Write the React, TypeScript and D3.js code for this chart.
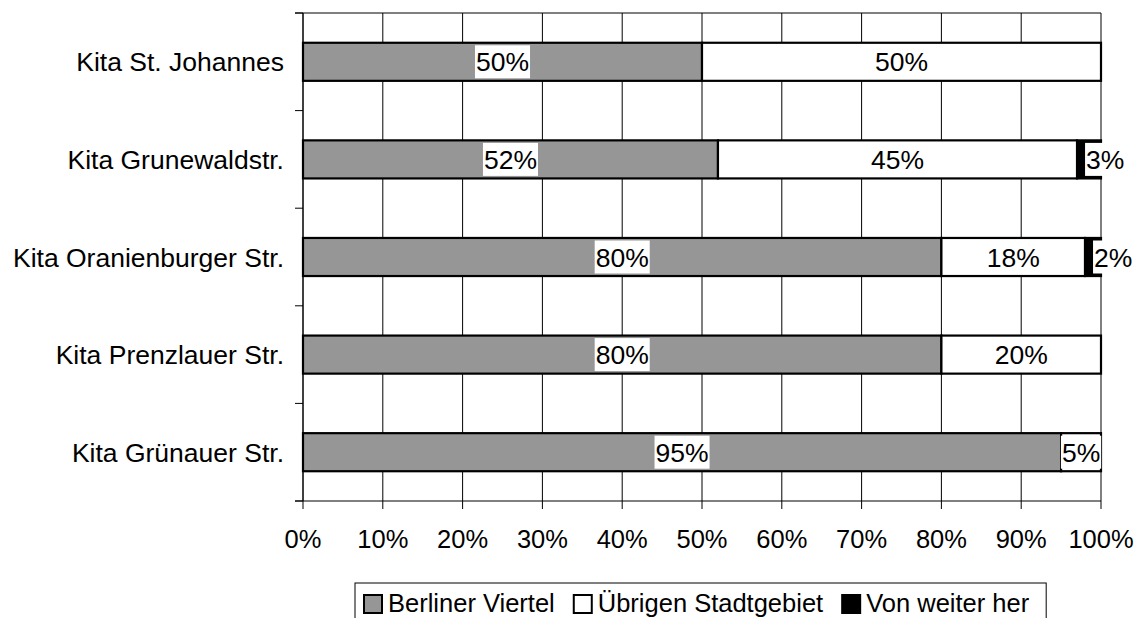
import React from "react";
import * as d3 from "d3";

const categories = [
  "Kita St. Johannes",
  "Kita Grunewaldstr.",
  "Kita Oranienburger Str.",
  "Kita Prenzlauer Str.",
  "Kita Grünauer Str.",
];
const seriesNames = ["Berliner Viertel", "Übrigen Stadtgebiet", "Von weiter her"];
const berlinerViertel = [50, 52, 80, 80, 95];
const uebrigenStadtgebiet = [50, 45, 18, 20, 5];
const vonWeiterHer = [0, 3, 2, 0, 0];
const xTicks = [0, 10, 20, 30, 40, 50, 60, 70, 80, 90, 100];
const seriesColors = ["#969696", "#ffffff", "#000000"];

const W = 1138;
const H = 618;
const FONT = "'Liberation Sans', Arial, sans-serif";
const FS_TICK = 25.5;
const FS_CAT = 26.5;
const FS_LAB = 26.5;
const FS_LEG = 25.5;

function textWidth(s: string, size: number) {
  if (typeof document === "undefined") return s.length * size * 0.55;
  const c = document.createElement("canvas").getContext("2d")!;
  c.font = `${size}px ${FONT}`;
  return c.measureText(s).width;
}

export default function App() {
  const left = 303;
  const right = 1101;
  const top = 13;
  const bottom = 501;
  const x = d3.scaleLinear().domain([0, 100]).range([left, right]);
  const y = d3.scaleBand<string>().domain(categories).range([top, bottom]).paddingInner(0).paddingOuter(0);
  const bw = y.bandwidth();
  const barH = bw * 0.39;

  const series = [berlinerViertel, uebrigenStadtgebiet, vonWeiterHer];
  const stackData = categories.map((c, i) => ({
    cat: c,
    s0: series[0][i],
    s1: series[1][i],
    s2: series[2][i],
  }));
  const stack = d3.stack<any>().keys(["s0", "s1", "s2"]);
  const stacked = stack(stackData);

  const boundaries = d3.range(categories.length + 1).map((i) => top + i * bw);

  const segs: any[] = [];
  const labels: any[] = [];
  stacked.forEach((layer, si) => {
    layer.forEach((d: any, ci) => {
      const v = d[1] - d[0];
      if (v <= 0) return;
      const cat = categories[ci];
      const x0 = x(d[0]);
      const x1 = x(d[1]);
      const yc = (y(cat) as number) + bw / 2;
      segs.push({ key: `${si}-${ci}`, x0, x1, y0: yc - barH / 2, fill: seriesColors[si] });
      const txt = `${v}%`;
      const tw = textWidth(txt, FS_LAB);
      let cx = (x0 + x1) / 2;
      if (tw > x1 - x0) cx = x0 + 9 + tw / 2;
      labels.push({ key: `l${si}-${ci}`, cx, yc, txt, tw });
    });
  });

  // legend
  const legTop = 583;
  const legLeft = 355;
  const sq = 18;
  let cursor = legLeft + 9;
  let lastEnd = cursor;
  const legItems = seriesNames.map((n, i) => {
    const item = { n, sx: cursor, tx: cursor + sq + 6, color: seriesColors[i] };
    lastEnd = item.tx + textWidth(n, FS_LEG);
    cursor = lastEnd + 19;
    return item;
  });
  const legRight = lastEnd + 17;

  return (
    <div>
      <style>{`body{margin:0}`}</style>
      <svg width={W} height={H} style={{ display: "block", fontFamily: FONT }}>
        <rect x={0} y={0} width={W} height={H} fill="#fff" />
        {/* vertical gridlines */}
        {xTicks.map((t) => (
          <line key={`g${t}`} x1={x(t)} x2={x(t)} y1={top} y2={bottom} stroke="#000" strokeWidth={1} />
        ))}
        {/* top line */}
        <line x1={left - 8} x2={right} y1={top} y2={top} stroke="#000" strokeWidth={1} />
        {/* y axis */}
        <line x1={left} x2={left} y1={top} y2={bottom} stroke="#000" strokeWidth={1} />
        {boundaries.map((b, i) => (
          <line key={`yt${i}`} x1={left - 8} x2={left} y1={b} y2={b} stroke="#000" strokeWidth={1} />
        ))}
        {/* x axis */}
        <line x1={left - 8} x2={right} y1={bottom} y2={bottom} stroke="#000" strokeWidth={1} />
        {xTicks.map((t) => (
          <line key={`xt${t}`} x1={x(t)} x2={x(t)} y1={bottom} y2={bottom + 8} stroke="#000" strokeWidth={1} />
        ))}
        {xTicks.map((t) => (
          <text key={`xl${t}`} x={x(t)} y={548} textAnchor="middle" fontSize={FS_TICK} fill="#000">
            {`${t}%`}
          </text>
        ))}
        {/* category labels */}
        {categories.map((c) => (
          <text
            key={c}
            x={284}
            y={(y(c) as number) + bw / 2}
            dy="0.36em"
            textAnchor="end"
            fontSize={FS_CAT}
            fill="#000"
          >
            {c}
          </text>
        ))}
        {/* bars */}
        {segs.map((s) => (
          <rect
            key={s.key}
            x={s.x0}
            y={s.y0}
            width={s.x1 - s.x0}
            height={barH}
            fill={s.fill}
            stroke="#000"
            strokeWidth={2.2}
          />
        ))}
        {/* labels */}
        {labels.map((l) => (
          <g key={l.key}>
            <rect x={l.cx - l.tw / 2 - 1} y={l.yc - 16.5} width={l.tw + 2} height={33} fill="#fff" />
            <text x={l.cx} y={l.yc} dy="0.36em" textAnchor="middle" fontSize={FS_LAB} fill="#000">
              {l.txt}
            </text>
          </g>
        ))}
        {/* legend */}
        <rect x={legLeft} y={legTop} width={legRight - legLeft} height={60} fill="#fff" stroke="#000" strokeWidth={1} />
        {legItems.map((it) => (
          <g key={it.n}>
            <rect x={it.sx} y={595} width={sq} height={sq} fill={it.color} stroke="#000" strokeWidth={2} />
            <text x={it.tx} y={612} fontSize={FS_LEG} fill="#000">
              {it.n}
            </text>
          </g>
        ))}
      </svg>
    </div>
  );
}
